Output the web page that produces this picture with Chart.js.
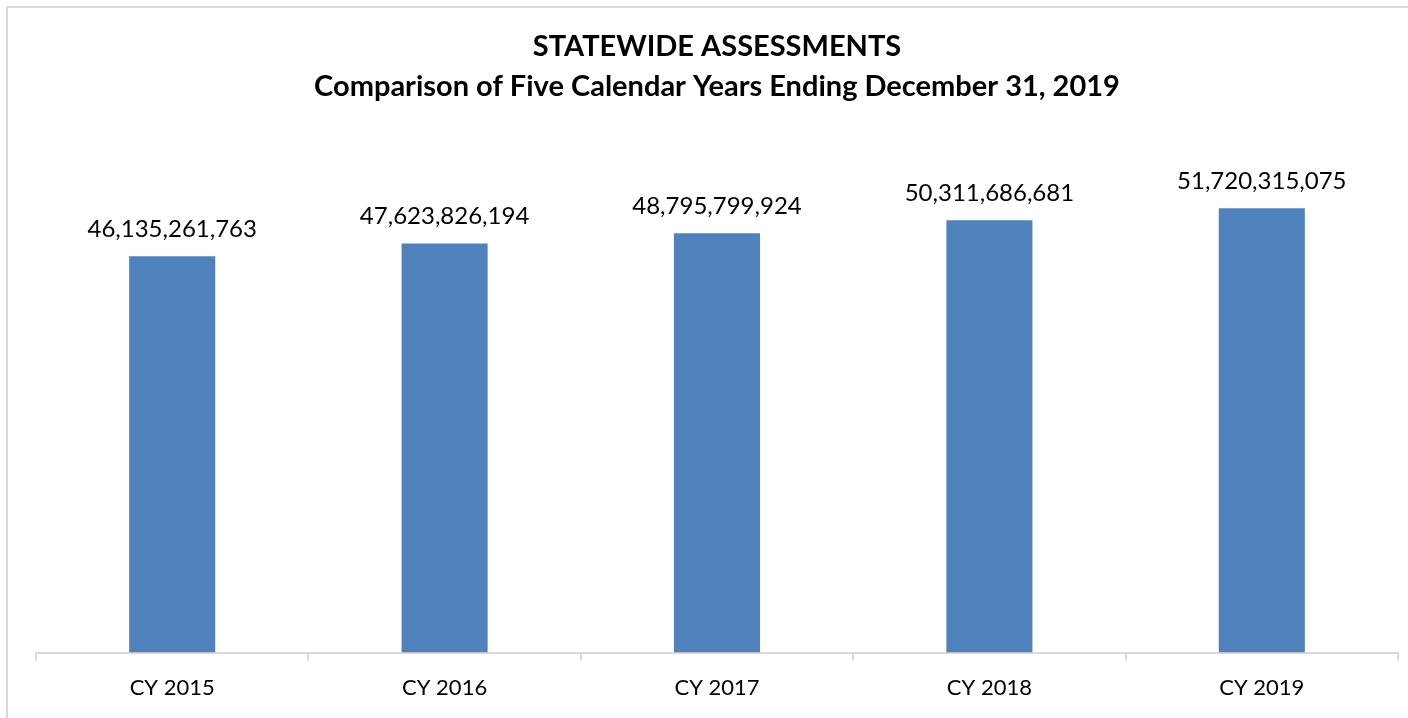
<!DOCTYPE html>
<html>
<head>
<meta charset="utf-8">
<script src="https://cdn.jsdelivr.net/npm/chart.js@4"></script>
<style>
  html, body { margin: 0; padding: 0; background: #fff; overflow: hidden; }
  #frame { position: absolute; left: 6px; top: 6px; width: 1420px; height: 730px; border: 2px solid #D9D9D9; box-sizing: border-box; }
  #wrap { position: absolute; left: 0; top: 0; width: 1408px; height: 718px; }
</style>
</head>
<body>
<div id="frame"></div>
<div id="wrap"><canvas id="c" width="1408" height="718"></canvas></div>
<script>
const categories = ["CY 2015", "CY 2016", "CY 2017", "CY 2018", "CY 2019"];
const assessments = [46135261763, 47623826194, 48795799924, 50311686681, 51720315075];
const titleLines = ["STATEWIDE ASSESSMENTS", "Comparison of Five Calendar Years Ending December 31, 2019"];
const yMin = 0;
const yMax = 60000000000;

const FONT = "Lato, 'Open Sans', sans-serif";

const valueLabels = {
  id: 'valueLabels',
  afterDatasetsDraw(chart) {
    const ctx = chart.ctx;
    const meta = chart.getDatasetMeta(0);
    ctx.save();
    ctx.font = "24px " + FONT;
    ctx.fillStyle = "#000";
    ctx.textAlign = "center";
    ctx.textBaseline = "middle";
    meta.data.forEach((bar, i) => {
      const v = chart.data.datasets[0].data[i];
      ctx.fillText(v.toLocaleString('en-US'), bar.x, bar.y - 27);
    });
    ctx.restore();
  }
};

new Chart(document.getElementById('c'), {
  type: 'bar',
  data: {
    labels: categories,
    datasets: [{
      data: assessments,
      backgroundColor: '#4F81BD',
      borderWidth: 0,
      categoryPercentage: 1.0,
      barPercentage: 0.316
    }]
  },
  options: {
    responsive: false,
    animation: false,
    layout: { padding: { left: 36, right: 10, top: 0, bottom: 3 } },
    plugins: {
      legend: { display: false },
      tooltip: { enabled: false },
      title: {
        display: true,
        text: titleLines,
        color: '#000',
        font: { family: FONT, size: 29, weight: 'bold', lineHeight: 1.38 },
        padding: { top: 27, bottom: 30 }
      }
    },
    scales: {
      y: { display: false, min: yMin, max: yMax },
      x: {
        grid: {
          offset: true,
          drawOnChartArea: false,
          drawTicks: true,
          tickLength: 8,
          color: '#D9D9D9',
          lineWidth: 2
        },
        border: { display: true, color: '#D9D9D9', width: 2 },
        ticks: { color: '#000', font: { family: FONT, size: 22 }, padding: 14 }
      }
    }
  },
  plugins: [valueLabels]
});
</script>
</body>
</html>
